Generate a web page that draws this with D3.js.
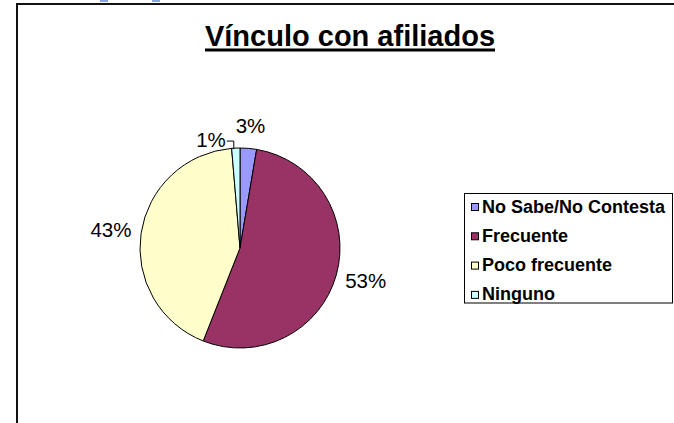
<!DOCTYPE html>
<html>
<head>
<meta charset="utf-8">
<script src="https://cdn.jsdelivr.net/npm/d3@7"></script>
<style>
  body { margin: 0; background: #fff; }
  svg { display: block; font-family: Arial, "Liberation Sans", sans-serif; }
</style>
</head>
<body>
<svg id="chart" width="674" height="423"></svg>
<script>
var categories = ['No Sabe/No Contesta', 'Frecuente', 'Poco frecuente', 'Ninguno']
var counts = [2, 40, 32, 1]
var colors = ['#9999FF', '#993366', '#FFFFCC', '#CCFFFF']
var title = 'Vínculo con afiliados'

var svg = d3.select('#chart')
var cx = 240, cy = 248, r = 100

// leftovers of the page around the chart
svg.append('rect').attr('x', 100).attr('y', 0).attr('width', 8).attr('height', 2).attr('fill', '#86a3df')
svg.append('rect').attr('x', 152).attr('y', 0).attr('width', 8).attr('height', 2).attr('fill', '#86a3df')

// chart frame (cut off at right / bottom)
svg.append('path').attr('d', 'M17,430 V4 H680').attr('fill', 'none').attr('stroke', '#111').attr('stroke-width', 2)

/** title */
var t = svg.append('text').attr('x', 350).attr('y', 46).attr('text-anchor', 'middle')
  .style('font-size', '29px').style('font-weight', 'bold').text(title)
var tw = t.node().getComputedTextLength()
svg.append('rect').attr('x', 350 - tw / 2).attr('y', 48.5).attr('width', tw).attr('height', 3).attr('fill', '#000')

/** pie */
var total = d3.sum(counts)
var pie = d3.pie().sort(null).value(function (d) { return d })
var arcs = pie(counts)
var arc = d3.arc().innerRadius(0).outerRadius(r)
var g = svg.append('g').attr('transform', 'translate(' + cx + ',' + cy + ')')

g.selectAll('path.slice').data(arcs).enter().append('path')
  .attr('class', 'slice')
  .attr('d', arc)
  .attr('fill', function (d, i) { return colors[i] })
  .attr('stroke', '#000').attr('stroke-width', 1)

/** labels, outside end */
var fmt = function (v) { return Math.round(v / total * 100) + '%' }
arcs.forEach(function (d) {
  var a = (d.startAngle + d.endAngle) / 2
  var s = Math.sin(a), c = -Math.cos(a)
  if (d.value / total < 0.02) {
    // too thin: pushed aside with a leader line
    var ex = r * s, ey = r * c
    g.append('path').attr('d', 'M' + (ex - 2) + ',' + (ey + 1) + ' V' + (ey - 7) + ' H' + (ex - 9))
      .attr('fill', 'none').attr('stroke', '#000').attr('stroke-width', 1)
    g.append('text').attr('x', ex - 10).attr('y', ey - 1).attr('text-anchor', 'end')
      .style('font-size', '20.5px').text(fmt(d.value))
    return
  }
  var lt = g.append('text').attr('text-anchor', 'middle').style('font-size', '20.5px').text(fmt(d.value))
  var w = lt.node().getComputedTextLength(), h = 24
  var R = 110
  lt.attr('x', R * s + s * w / 2).attr('y', R * c + c * h / 2 + 7)
})

/** legend */
svg.append('rect').attr('x', 464.5).attr('y', 193.5).attr('width', 208).attr('height', 109.5)
  .attr('fill', '#fff').attr('stroke', '#000').attr('stroke-width', 1)
var leg = svg.append('g').selectAll('g').data(categories).enter().append('g')
  .attr('transform', function (d, i) { return 'translate(471,' + (203 + i * 29.3) + ')' })
leg.append('rect').attr('x', 0.5).attr('y', 0.5).attr('width', 7).attr('height', 7)
  .attr('fill', function (d, i) { return colors[i] }).attr('stroke', '#000').attr('stroke-width', 1)
leg.append('text').attr('x', 11).attr('y', 9.5).style('font-size', '18px').style('font-weight', 'bold')
  .text(function (d) { return d })
</script>
</body>
</html>
